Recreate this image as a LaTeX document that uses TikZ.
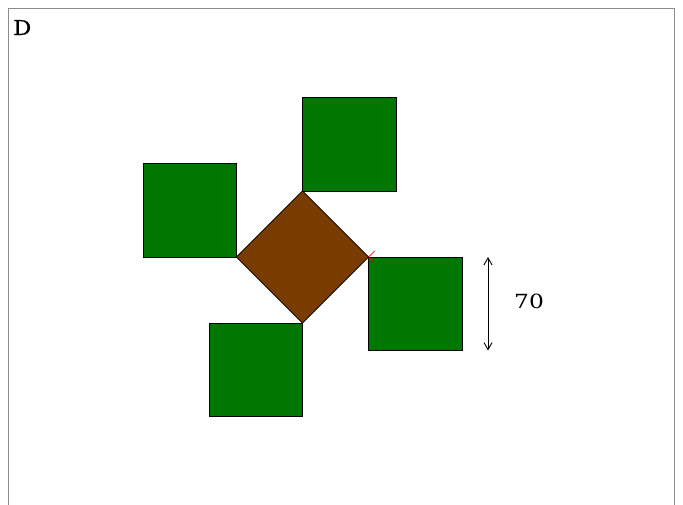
\documentclass[tikz,border=0pt]{standalone}
\usepackage{fontspec}
\newfontfamily\lblfont{DejaVu Serif}
\newfontfamily\titlefont{DejaVu Serif}[FakeBold=0.6]
\usetikzlibrary{shapes.geometric,arrows.meta}
\definecolor{sqgreen}{RGB}{0,119,0}
\definecolor{diabrown}{RGB}{122,59,0}
\definecolor{framegray}{RGB}{140,140,140}
\begin{document}
\begin{tikzpicture}[x=1pt,y=-1pt,
  sq/.style={draw=black,fill=sqgreen,line width=0.7pt,minimum width=93.5pt,minimum height=93.5pt,inner sep=0pt,outer sep=0pt},
  dia/.style={shape=diamond,draw=black,fill=diabrown,line width=0.7pt,minimum width=132.2pt,minimum height=132.2pt,inner sep=0pt,outer sep=0pt},
  lbl/.style={inner sep=0pt}]
\useasboundingbox (0,0) rectangle (683,504);
\draw[framegray,line width=1pt] (8.5,515) -- (8.5,8.5) -- (674.5,8.5) -- (674.5,515);
\node[lbl,anchor=base west,font=\titlefont\fontsize{20.5}{24}\selectfont] (title) at (13,35) {\scalebox{1.1}[1]{D}};
\node[dia] (d) at (302.5,257) {};
\node[sq,anchor=south west] (top) at (d.north) {};
\node[sq,anchor=south east] (left) at (d.west) {};
\node[sq,anchor=north west] (right) at (d.east) {};
\node[sq,anchor=north east] (bottom) at (d.south) {};
\draw[red,line width=0.6pt] (d.east) -- ++(6,-6) (d.east) -- ++(4.5,4.5);
\coordinate (a1) at (488,257);
\coordinate (a2) at (488,350.5);
\draw[line width=0.9pt,{Straight Barb[length=7pt,width=8pt]}-{Straight Barb[length=7pt,width=8pt]}] (a1) -- (a2);
\node[lbl,anchor=base west,font=\lblfont\fontsize{19.5}{23}\selectfont] (dim) at (514,308) {\scalebox{1.2}[1]{70}};
\end{tikzpicture}
\end{document}
